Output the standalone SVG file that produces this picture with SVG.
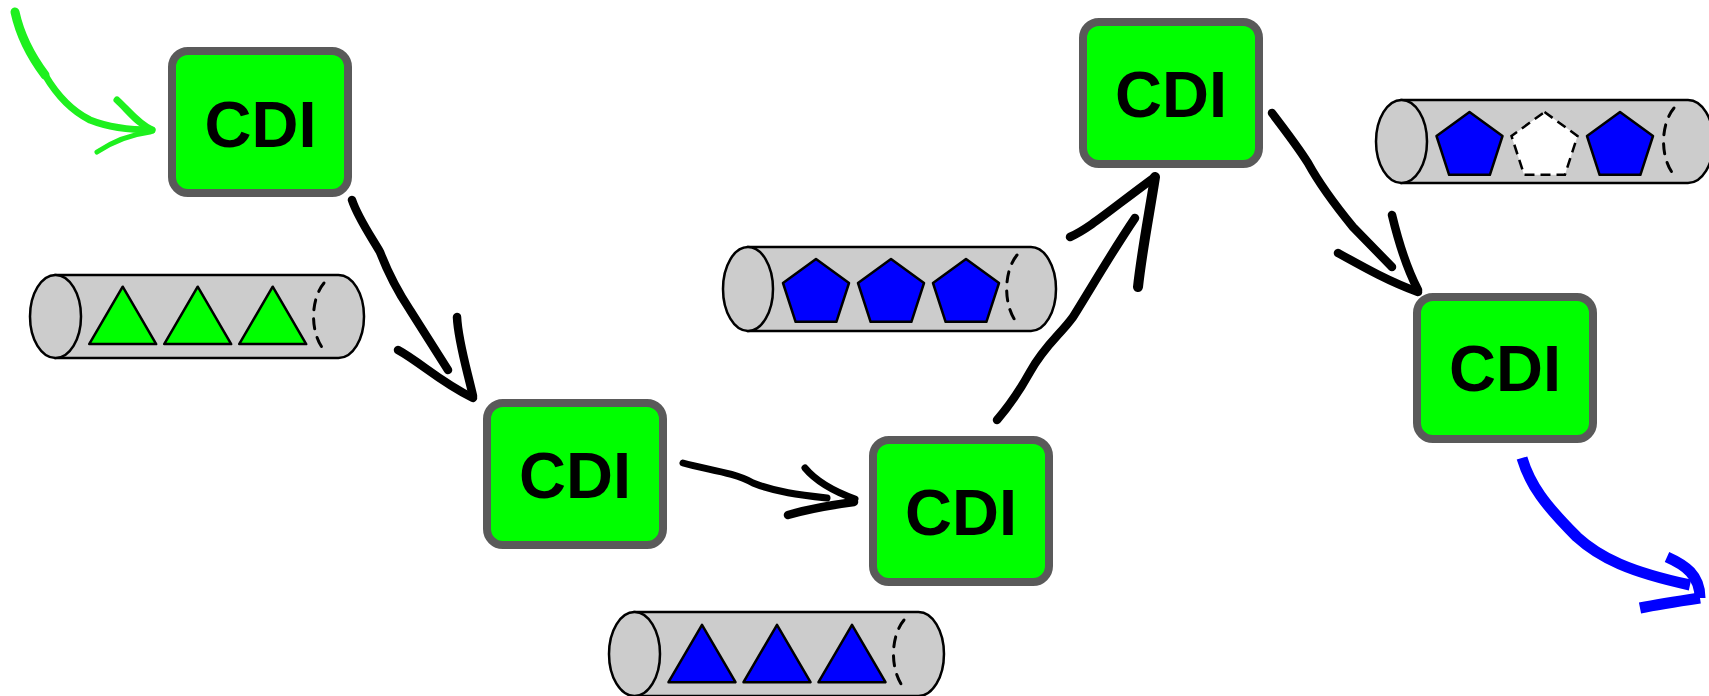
<svg xmlns="http://www.w3.org/2000/svg" xmlns:xlink="http://www.w3.org/1999/xlink" width="1709" height="696" viewBox="0 0 1709 696">
<style>
.node rect{fill:#00ff00;stroke:#5a5a5a;stroke-width:8}
.node text{font-family:"Liberation Sans",Arial,sans-serif;font-weight:bold;font-size:65px;fill:#000;text-anchor:middle}
.cyl{fill:#cccccc;stroke:#000;stroke-width:2.5}
.dash{fill:none;stroke:#000;stroke-width:3;stroke-dasharray:10 9;stroke-linecap:round}
.gtri{fill:#00ff00;stroke:#000;stroke-width:2.5;stroke-linejoin:round}
.btri{fill:#0000ff;stroke:#000;stroke-width:2.5;stroke-linejoin:round}
.bpent{fill:#0000ff;stroke:#000;stroke-width:2.5;stroke-linejoin:round}
.wpent{fill:#ffffff;stroke:#000;stroke-width:2.5;stroke-dasharray:10 6}
.ink{fill:none;stroke:#000;stroke-width:8.5;stroke-linecap:round;stroke-linejoin:round}
.gink{fill:none;stroke:#1ef01e;stroke-width:7;stroke-linecap:round;stroke-linejoin:round}
.bink{fill:none;stroke:#0000ff;stroke-width:11;stroke-linecap:butt;stroke-linejoin:round}
</style>
<defs>
<polygon id="pent" points="0,-34.7 33,-10.7 20.4,28.1 -20.4,28.1 -33,-10.7"/>
<polygon id="tri" points="-33.5,28.7 0,-28.7 33.5,28.7"/>
</defs>
<rect width="1709" height="696" fill="#ffffff"/>

<g id="queue1">
<path class="cyl" d="M55.5,275 H338.5 A25.5,41.5 0 0 1 338.5,358 H55.5 Z"/>
<ellipse class="cyl" cx="55.5" cy="316.5" rx="25.5" ry="41.5"/>
<path class="dash" d="M324,283 A25.5,41.5 0 0 0 324,350"/>
<use href="#tri" class="gtri" x="122.7" y="315.4"/>
<use href="#tri" class="gtri" x="197.7" y="315.4"/>
<use href="#tri" class="gtri" x="272.7" y="315.4"/>
</g>

<g id="queue2">
<path class="cyl" d="M748,247 H1031 A25,42 0 0 1 1031,331 H748 Z"/>
<ellipse class="cyl" cx="748" cy="289" rx="25" ry="42"/>
<path class="dash" d="M1017,255 A25,42 0 0 0 1017,323"/>
<use href="#pent" class="bpent" x="816" y="293.7"/>
<use href="#pent" class="bpent" x="891" y="293.7"/>
<use href="#pent" class="bpent" x="966" y="293.7"/>
</g>

<g id="queue3">
<path class="cyl" d="M634.5,612 H918.5 A25.5,42 0 0 1 918.5,696 H634.5 Z"/>
<ellipse class="cyl" cx="634.5" cy="654" rx="25.5" ry="42"/>
<path class="dash" d="M904,620 A25.5,42 0 0 0 904,688"/>
<use href="#tri" class="btri" x="702" y="653.5"/>
<use href="#tri" class="btri" x="777" y="653.5"/>
<use href="#tri" class="btri" x="852" y="653.5"/>
</g>

<g id="queue4">
<path class="cyl" d="M1401.5,100 H1688 A25.5,41.5 0 0 1 1688,183 H1401.5 Z"/>
<ellipse class="cyl" cx="1401.5" cy="141.5" rx="25.5" ry="41.5"/>
<path class="dash" d="M1674,108 A25.5,41.5 0 0 0 1674,175"/>
<use href="#pent" class="bpent" x="1469.5" y="146.7"/>
<use href="#pent" class="wpent" x="1544.5" y="146.7"/>
<use href="#pent" class="bpent" x="1620" y="146.7"/>
</g>

<g id="node1" class="node">
<rect x="172" y="51" width="176" height="142" rx="16"/>
<text x="260.5" y="147">CDI</text>
</g>
<g id="node2" class="node">
<rect x="487" y="403" width="176" height="142" rx="16"/>
<text x="575" y="498">CDI</text>
</g>
<g id="node3" class="node">
<rect x="873" y="440" width="176" height="142" rx="16"/>
<text x="961" y="535">CDI</text>
</g>
<g id="node4" class="node">
<rect x="1083" y="22" width="176" height="142" rx="16"/>
<text x="1171" y="117">CDI</text>
</g>
<g id="node5" class="node">
<rect x="1417" y="297" width="176" height="142" rx="16"/>
<text x="1505" y="391">CDI</text>
</g>

<g id="connectors">
<path class="gink" style="stroke-width:9" d="M15,12 C20,35 30,55 45,75"/>
<path class="gink" d="M45,75 C55,92 70,110 90,120 C110,128 130,130 152,130"/>
<path class="gink" d="M117,100 C128,110 138,124 152,130"/>
<path class="gink" style="stroke-width:5" d="M97,152 C115,140 135,134 150,132"/>

<path class="ink" d="M352,200 C358,218 372,238 380,252 C390,278 400,295 410,310 L448,370"/>
<path class="ink" d="M398,350 C420,362 440,382 473,398"/>
<path class="ink" d="M457,317 C458,340 466,366 473,396"/>

<path class="ink" style="stroke-width:7" d="M683,463 C708,470 733,472 753,483 C775,492 800,495 827,498"/>
<path class="ink" style="stroke-width:7" d="M805,468 C815,480 830,490 855,499"/>
<path class="ink" d="M788,515 C805,510 825,506 854,502"/>

<path class="ink" d="M997,420 C1010,405 1020,390 1030,372 C1045,345 1060,335 1073,317 C1090,290 1110,255 1135,218"/>
<path class="ink" d="M1070,237 C1090,228 1110,210 1155,177"/>
<path class="ink" style="stroke-width:10" d="M1138,287 C1142,250 1150,210 1155,177"/>

<path class="ink" d="M1272,113 C1285,130 1300,150 1308,163 C1320,185 1335,205 1353,227 L1392,267"/>
<path class="ink" d="M1338,253 C1365,268 1390,282 1418,292"/>
<path class="ink" d="M1392,215 C1398,240 1405,265 1418,290"/>

<path class="bink" d="M1522,458 C1530,485 1545,505 1577,537 C1600,558 1630,572 1690,585"/>
<path class="bink" d="M1667,557 C1685,565 1700,575 1700,598"/>
<path class="bink" d="M1640,608 C1660,604 1680,601 1700,598"/>
</g>
</svg>
